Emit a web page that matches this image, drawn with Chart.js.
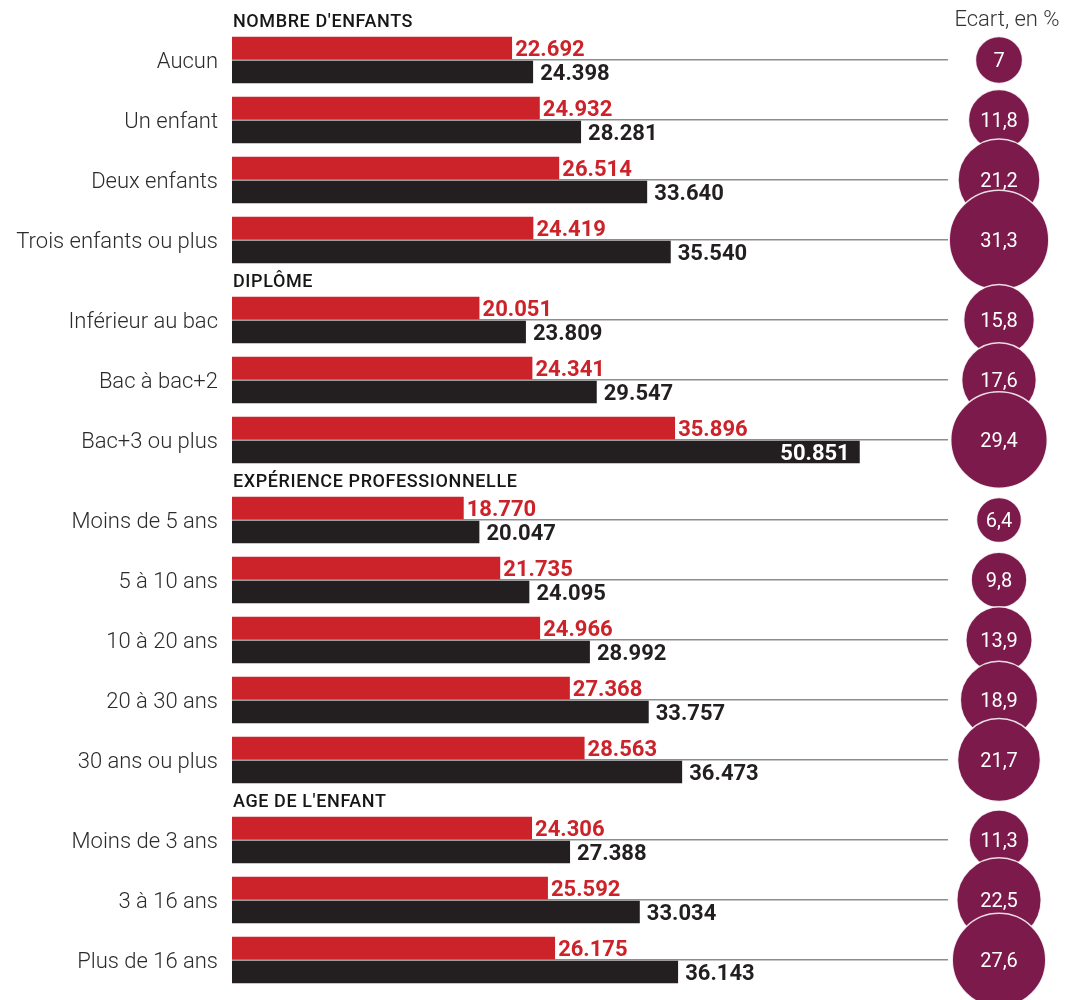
<!DOCTYPE html>
<html><head><meta charset="utf-8">
<script src="https://cdn.jsdelivr.net/npm/chart.js@4"></script>
<style>
html,body{margin:0;padding:0;background:#fff;}
#wrap{position:relative;width:1083px;height:1000px;overflow:hidden;background:#fff;}
#bars{position:absolute;left:0;top:0;}
#bubbles{position:absolute;left:915px;top:0;}
</style></head><body>
<div id="wrap"><canvas id="bars" width="1083" height="1000"></canvas><canvas id="bubbles" width="168" height="1000"></canvas></div>
<script>
const sections = ["NOMBRE D'ENFANTS", "DIPLÔME", "EXPÉRIENCE PROFESSIONNELLE", "AGE DE L'ENFANT"];
const categories = ['Aucun', 'Un enfant', 'Deux enfants', 'Trois enfants ou plus',
  'Inférieur au bac', 'Bac à bac+2', 'Bac+3 ou plus',
  'Moins de 5 ans', '5 à 10 ans', '10 à 20 ans', '20 à 30 ans', '30 ans ou plus',
  'Moins de 3 ans', '3 à 16 ans', 'Plus de 16 ans'];
const sectionOf = [0, 0, 0, 0, 1, 1, 1, 2, 2, 2, 2, 2, 3, 3, 3];
const women = [22692, 24932, 26514, 24419, 20051, 24341, 35896, 18770, 21735, 24966, 27368, 28563, 24306, 25592, 26175];
const men = [24398, 28281, 33640, 35540, 23809, 29547, 50851, 20047, 24095, 28992, 33757, 36473, 27388, 33034, 36143];
const ecart = [7, 11.8, 21.2, 31.3, 15.8, 17.6, 29.4, 6.4, 9.8, 13.9, 18.9, 21.7, 11.3, 22.5, 27.6];
const ecartTitle = 'Ecart, en %';

// vertical layout units: each section header takes 1 unit, each category row 3 units
const rowPos = categories.map((c, i) => 3 * i + sectionOf[i] + 2.5);
const headerPos = sections.map((s, k) => 3 * sectionOf.indexOf(k) + k + 0.5);
const yMax = 3 * categories.length + sections.length;

const fmtThousands = v => String(v).replace(/\B(?=(\d{3})+(?!\d))/g, '.');
const fmtPct = v => String(v).replace('.', ',');

const RED = '#cc2229', BLACK = '#231f20', WINE = '#7b1a4b';

const valueLabels = {
  id: 'valueLabels',
  afterDatasetsDraw(chart) {
    const ctx = chart.ctx;
    const series = [women, men];
    const globalMax = Math.max(...women, ...men);
    ctx.save();
    ctx.font = '700 22px Roboto';
    ctx.textBaseline = 'middle';
    series.forEach((values, di) => {
      const meta = chart.getDatasetMeta(di);
      meta.data.forEach((bar, i) => {
        const v = values[i];
        const txt = fmtThousands(v);
        if (v === globalMax) {
          ctx.fillStyle = '#ffffff';
          ctx.textAlign = 'right';
          ctx.fillText(txt, bar.x - 10, bar.y + 2);
        } else {
          ctx.fillStyle = di === 0 ? RED : BLACK;
          ctx.textAlign = 'left';
          ctx.fillText(txt, bar.x + (di === 0 ? 3 : 7), bar.y + 2);
        }
      });
    });
    const yScale = chart.scales.y;
    ctx.font = '500 18px Roboto';
    ctx.letterSpacing = '0.6px';
    ctx.fillStyle = '#161616';
    ctx.textAlign = 'left';
    sections.forEach((s, k) => {
      ctx.fillText(s, chart.chartArea.left + 1, yScale.getPixelForValue(headerPos[k]) + 2);
    });
    ctx.restore();
  }
};

new Chart(document.getElementById('bars'), {
  type: 'bar',
  data: {
    datasets: [
      { label: 'Femmes', data: women.map((v, i) => ({ x: v, y: rowPos[i] })), backgroundColor: RED,
        borderColor: 'rgba(0,0,0,0)', borderWidth: { top: 1, bottom: 1, left: 0, right: 0 }, borderSkipped: false, barThickness: 24 },
      { label: 'Hommes', data: men.map((v, i) => ({ x: v, y: rowPos[i] })), backgroundColor: BLACK,
        borderColor: 'rgba(0,0,0,0)', borderWidth: { top: 1, bottom: 1, left: 0, right: 0 }, borderSkipped: false, barThickness: 24 }
    ]
  },
  options: {
    indexAxis: 'y', responsive: false, animation: false, events: [],
    layout: { autoPadding: false, padding: { top: 10, bottom: 10, left: 0, right: 135 } },
    plugins: { legend: { display: false }, tooltip: { enabled: false } },
    scales: {
      x: { type: 'linear', min: 0, max: 58000, display: false },
      y: {
        type: 'linear', reverse: true, min: 0, max: yMax, offset: false,
        afterBuildTicks: s => { s.ticks = rowPos.map(v => ({ value: v })); },
        afterFit: s => { s.width = 232; s.paddingTop = 0; s.paddingBottom = 0; },
        grid: { drawTicks: false, offset: false, color: '#8d8d8d', lineWidth: 1.5 },
        border: { display: false },
        ticks: { padding: 14, labelOffset: 2, color: '#2b2b2b', autoSkip: false,
          font: { family: 'Roboto', size: 22, weight: '300' },
          callback: (v, i) => categories[i] }
      }
    }
  },
  plugins: [valueLabels]
});

const bubbleLabels = {
  id: 'bubbleLabels',
  afterDatasetsDraw(chart) {
    const ctx = chart.ctx;
    const meta = chart.getDatasetMeta(0);
    ctx.save();
    ctx.font = '400 20px Roboto';
    ctx.fillStyle = '#ffffff';
    ctx.textAlign = 'center';
    ctx.textBaseline = 'middle';
    meta.data.forEach((pt, i) => ctx.fillText(fmtPct(ecart[i]), pt.x, pt.y + 2));
    const cx = chart.scales.x.getPixelForValue(0);
    ctx.font = '300 22px Roboto';
    ctx.fillStyle = '#333333';
    ctx.fillText(ecartTitle, cx + 8, 20);
    ctx.restore();
  }
};

new Chart(document.getElementById('bubbles'), {
  type: 'bubble',
  data: {
    labels: [ecartTitle],
    datasets: [{
      data: ecart.map((v, i) => ({ x: ecartTitle, y: rowPos[i], r: 8.9 * Math.sqrt(v) })),
      backgroundColor: WINE, borderColor: 'rgba(255,255,255,0.85)', borderWidth: 1.5, clip: false
    }]
  },
  options: {
    responsive: false, animation: false, events: [],
    layout: { autoPadding: false, padding: { top: 10, bottom: 10, left: 0, right: 0 } },
    plugins: { legend: { display: false }, tooltip: { enabled: false } },
    scales: {
      x: { type: 'category', labels: [ecartTitle], offset: true, display: false },
      y: { type: 'linear', reverse: true, min: 0, max: yMax, offset: false, display: false }
    }
  },
  plugins: [bubbleLabels]
});
</script>
</body></html>
